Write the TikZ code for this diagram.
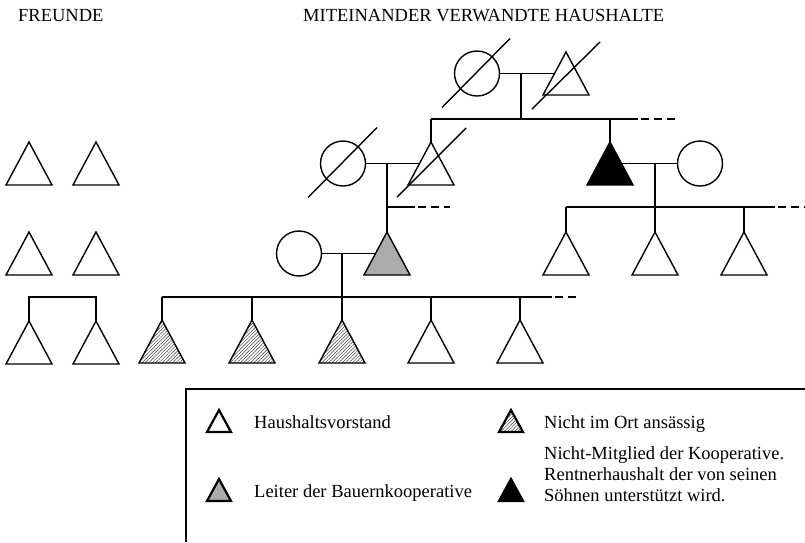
\documentclass[tikz,border=0pt]{standalone}
\usepackage{fontspec}
\setmainfont{Liberation Serif}
\usetikzlibrary{patterns.meta,calc}

\tikzset{
  ln/.style={line width=1.4pt},
  lnl/.style={line width=2.2pt},
  person/.style={circle, draw, line width=1.4pt, minimum size=45pt, inner sep=0pt},
  dashext/.style={line width=1.4pt, dash pattern=on 8pt off 5pt},
  hatch/.style={pattern={Lines[angle=45,distance=2.4pt,line width=0.5pt]}, pattern color=black!75},
  greyfill/.style={fill=black!33},
  blackfill/.style={fill=black},
  lbl/.style={anchor=base west, inner sep=0pt, font=\fontsize{18.5}{21.6}\selectfont},
}

% pedigree triangle: [style]{name}{x of apex}{y of apex}
\newcommand\ptri[4][]{%
  \coordinate (#2) at (#3,#4);
  \coordinate (#2-l) at ($(#2)+(-11.5,21.5)$);
  \coordinate (#2-r) at ($(#2)+(11.5,21.5)$);
  \draw[ln,#1] (#2) -- ++(23,43) -- ++(-46,0) -- cycle;
}
% legend triangle
\newcommand\ltri[4][]{%
  \coordinate (#2) at (#3,#4);
  \draw[lnl,#1] (#2) -- ++(12,22) -- ++(-24,0) -- cycle;
}

\begin{document}
\begin{tikzpicture}[x=1pt,y=-1pt]
\useasboundingbox (0,0) rectangle (805,542);

% titles
\node[lbl] (tFr) at (18,21.5) {FREUNDE};
\node[lbl] (tMv) at (303,21.5) {MITEINANDER VERWANDTE HAUSHALTE};

% friends
\ptri{f1}{29}{142} \ptri{f2}{96}{142}
\ptri{f3}{29}{232} \ptri{f4}{96}{232}
\ptri{f5}{29}{321} \ptri{f6}{96}{321}
\coordinate (fb1) at (29,297); \coordinate (fb2) at (96,297);
\draw[ln] (f5) -- (fb1) -- (fb2) -- (f6);

% generation 1
\node[person] (g1w) at (477,73.5) {};
\ptri{g1m}{566}{52}
\draw[ln] (g1w) -- (g1m-l);
\draw[ln] ($(g1w)+(-35,34)$) -- ($(g1w)+(33,-35)$);
\draw[ln] ($(g1m)+(-34,57)$) -- ($(g1m)+(34,-10)$);
\coordinate (g1c) at (521,73.5); \coordinate (g1b) at (521,119);
\draw[ln] (g1c) -- (g1b);
\coordinate (g1L) at (431,119); \coordinate (g1R) at (638,119); \coordinate (g1D) at (675,119);
\coordinate (g1k) at (610,119);
\draw[ln] (g1L) -- (g1R);
\draw[dashext] ($(g1R)+(3,0)$) -- (g1D);

% generation 2, left couple
\node[person] (g2w) at (343,163.5) {};
\ptri{g2m}{431}{142}
\draw[ln] (g1L) -- (g2m);
\draw[ln] (g2w) -- (g2m-l);
\draw[ln] ($(g2w)+(-35,34)$) -- ($(g2w)+(34,-36)$);
\draw[ln] ($(g2m)+(-34,55)$) -- ($(g2m)+(35,-14)$);
\coordinate (g2c) at (387,163.5);
\coordinate (g2b) at (387,207); \coordinate (g2bR) at (415,207); \coordinate (g2bD) at (450,207);
\draw[ln] (g2b) -- (g2bR);
\draw[dashext] ($(g2bR)+(3,0)$) -- (g2bD);

% generation 2, retired (black) couple
\ptri[blackfill]{bk}{610}{142}
\draw[ln] (g1k) -- (bk);
\node[person] (bkw) at (700,163.5) {};
\draw[ln] (bk-r) -- (bkw);
\coordinate (bkc) at (655,163.5); \coordinate (bkb) at (655,207);
\draw[ln] (bkc) -- (bkb);
\coordinate (bkL) at (566,207); \coordinate (bkR) at (744,207);
\coordinate (bkE) at (775,207); \coordinate (bkD) at (805,207);
\draw[ln] (bkL) -- (bkE);
\draw[dashext] ($(bkE)+(3,0)$) -- (bkD);
\ptri{k1}{566}{232} \ptri{k2}{655}{232} \ptri{k3}{744}{232}
\draw[ln] (bkL) -- (k1);
\draw[ln] (bkb) -- (k2);
\draw[ln] (bkR) -- (k3);

% generation 3 (cooperative leader)
\ptri[greyfill]{g3m}{387}{232}
\draw[ln] (g2c) -- (g3m);
\node[person] (g3w) at (299,253.5) {};
\draw[ln] (g3w) -- (g3m-l);
\coordinate (g3c) at (342,253.5); \coordinate (g3b) at (342,297);
\draw[ln] (g3c) -- (g3b);
\coordinate (cb1) at (162,297); \coordinate (cb2) at (252,297);
\coordinate (cb4) at (431,297); \coordinate (cb5) at (520,297);
\coordinate (cbE) at (552,297); \coordinate (cbD) at (580,297);
\draw[ln] (cb1) -- (cbE);
\draw[dashext] ($(cbE)+(3,0)$) -- (cbD);
\ptri[hatch]{c1}{162}{320}
\ptri[hatch]{c2}{252}{320}
\ptri[hatch]{c3}{342}{320}
\ptri{c4}{431}{320}
\ptri{c5}{520}{320}
\draw[ln] (cb1) -- (c1);
\draw[ln] (cb2) -- (c2);
\draw[ln] (g3b) -- (c3);
\draw[ln] (cb4) -- (c4);
\draw[ln] (cb5) -- (c5);

% legend
\coordinate (lgA) at (186,542); \coordinate (lgB) at (186,389); \coordinate (lgC) at (805,389);
\draw[ln] (lgA) -- (lgB) -- (lgC);
\ltri{l1}{219}{410}
\node[lbl] (l1t) at (254,428) {Haushaltsvorstand};
\ltri[hatch]{l2}{511}{410}
\node[lbl] (l2t) at (544,428) {Nicht im Ort ansässig};
\ltri[greyfill]{l3}{219}{479}
\node[lbl] (l3t) at (254,497) {Leiter der Bauernkooperative};
\ltri[blackfill]{l4}{511}{479}
\node[lbl] (l4a) at (544,459) {Nicht-Mitglied der Kooperative.};
\node[lbl] (l4b) at (544,480) {Rentnerhaushalt der von seinen};
\node[lbl] (l4c) at (544,501) {Söhnen unterstützt wird.};
\end{tikzpicture}
\end{document}
